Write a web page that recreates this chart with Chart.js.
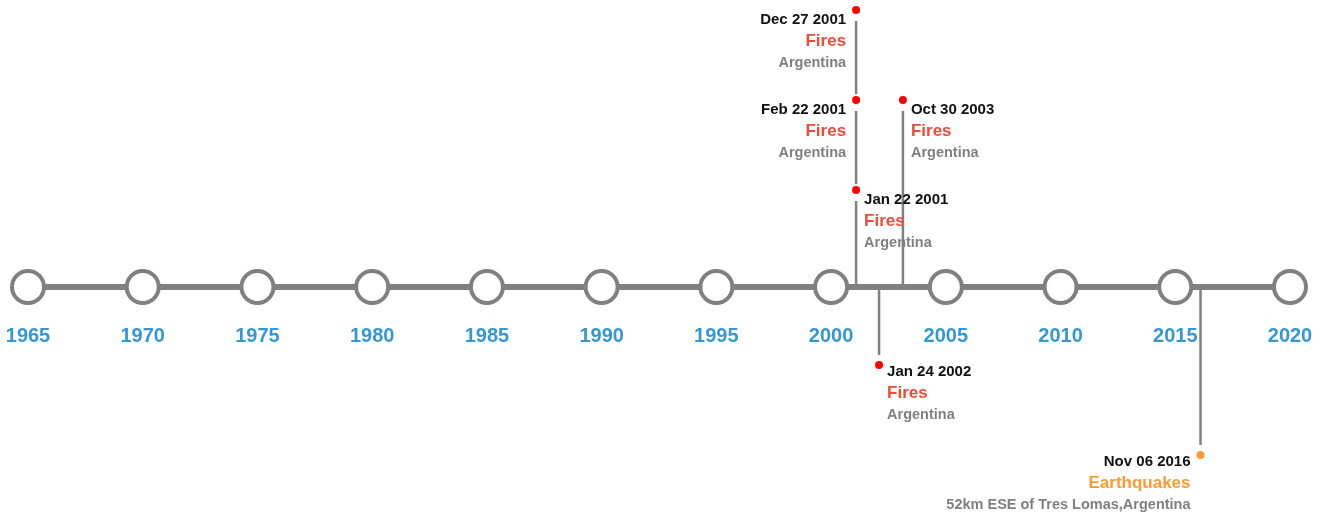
<!DOCTYPE html>
<html>
<head>
<meta charset="utf-8">
<title>Timeline</title>
<script src="https://cdn.jsdelivr.net/npm/chart.js@4/dist/chart.umd.min.js"></script>
<style>
    html, body { margin: 0; padding: 0; background: #ffffff; }
    #wrap { width: 1325px; height: 512px; position: relative; }
</style>
</head>
<body>
<div id="wrap"><canvas id="timelineChart"></canvas></div>
<script>
// Timeline data
const axisYears = [1965, 1970, 1975, 1980, 1985, 1990, 1995, 2000, 2005, 2010, 2015, 2020];
const eventDates = ['Dec 27 2001', 'Feb 22 2001', 'Jan 22 2001', 'Oct 30 2003', 'Jan 24 2002', 'Nov 06 2016'];
const eventTypes = ['Fires', 'Fires', 'Fires', 'Fires', 'Fires', 'Earthquakes'];
const eventPlaces = ['Argentina', 'Argentina', 'Argentina', 'Argentina', 'Argentina', '52km ESE of Tres Lomas,Argentina'];
const eventYears = [2001.09, 2001.09, 2001.09, 2003.13, 2002.09, 2016.1];
const eventRows = [3, 2, 1, 2, -1, -2];   // positive = above the axis, negative = below
const labelSides = ['left', 'left', 'right', 'right', 'right', 'left'];

// Styling
const typeColors = { 'Fires': '#ee4b38', 'Earthquakes': '#ff9a33' };
const dotColors = { 'Fires': '#ff0000', 'Earthquakes': '#ff9933' };
const GRAY = '#808080';
const FONT = '"Liberation Sans", Arial, Helvetica, sans-serif';
const ROW_GAP = 90;
const AXIS_PX = 287;       // distance of the axis from the top of the canvas
const CANVAS_H = 512;
const TICK_GAP = 37;
const TICK_FONT = 20;

// rows -> y value (1 unit = 1 px, axis at 0)
function rowValue(row) {
    return row > 0 ? 7 + ROW_GAP * row : 12 + ROW_GAP * row;
}

const eventValues = eventRows.map(rowValue);

// Build stem segments between the dots of the same column
function buildStems() {
    const stems = [];
    eventYears.forEach((yr, i) => {
        const v = eventValues[i];
        if (v > 0) {
            // closest dot below this one in the same column, above the axis
            let next = null;
            eventYears.forEach((yr2, j) => {
                const v2 = eventValues[j];
                if (j !== i && yr2 === yr && v2 > 0 && v2 < v && (next === null || v2 > next)) next = v2;
            });
            stems.push([{ x: yr, y: v - 11 }, { x: yr, y: next === null ? 0 : next + 6 }]);
        } else {
            stems.push([{ x: yr, y: 0 }, { x: yr, y: v + 10 }]);
        }
    });
    return stems;
}

const stemDatasets = buildStems().map(seg => ({
    type: 'line',
    data: seg,
    borderColor: GRAY,
    borderWidth: 2.5,
    pointRadius: 0,
    clip: false
}));

// Text labels next to each dot
const eventLabels = {
    id: 'eventLabels',
    afterDatasetsDraw(chart) {
        const ctx = chart.ctx;
        const xs = chart.scales.x;
        const ys = chart.scales.y;
        ctx.save();
        ctx.textBaseline = 'middle';
        eventYears.forEach((yr, i) => {
            const px = xs.getPixelForValue(yr);
            const py = ys.getPixelForValue(eventValues[i]);
            const left = labelSides[i] === 'left';
            const tx = left ? px - 10 : px + 8;
            const top = py + (eventValues[i] > 0 ? 9.5 : 6.5);
            ctx.textAlign = left ? 'right' : 'left';

            ctx.font = 'bold 15px ' + FONT;
            ctx.fillStyle = '#111111';
            ctx.fillText(eventDates[i], tx, top);

            ctx.font = 'bold 17px ' + FONT;
            ctx.fillStyle = typeColors[eventTypes[i]];
            ctx.fillText(eventTypes[i], tx, top + 22);

            ctx.font = 'bold 14.5px ' + FONT;
            ctx.fillStyle = GRAY;
            ctx.fillText(eventPlaces[i], tx, top + 43);
        });
        ctx.restore();
    }
};

function createTimeline() {
    const canvas = document.getElementById('timelineChart');

    new Chart(canvas, {
        type: 'scatter',
        data: {
            datasets: [
                {
                    // event dots
                    data: eventYears.map((yr, i) => ({ x: yr, y: eventValues[i] })),
                    pointRadius: 5,
                    pointBorderWidth: 2,
                    pointBorderColor: '#ffffff',
                    pointBackgroundColor: eventTypes.map(t => dotColors[t]),
                    clip: false
                },
                {
                    // main axis with circle markers
                    type: 'line',
                    data: axisYears.map(yr => ({ x: yr, y: 0 })),
                    borderColor: GRAY,
                    borderWidth: 6,
                    pointRadius: 16,
                    pointBorderWidth: 4,
                    pointBorderColor: GRAY,
                    pointBackgroundColor: '#ffffff',
                    clip: false
                },
                ...stemDatasets
            ]
        },
        options: {
            responsive: true,
            maintainAspectRatio: false,
            animation: false,
            events: [],
            layout: { autoPadding: false, padding: { left: 28, right: 35, top: 0, bottom: 0 } },
            plugins: {
                legend: { display: false },
                tooltip: { enabled: false }
            },
            scales: {
                x: {
                    type: 'linear',
                    min: 1965,
                    max: 2020,
                    position: { y: 0 },
                    grid: { display: false, drawTicks: true, tickLength: TICK_GAP },
                    border: { display: false },
                    ticks: {
                        stepSize: 5,
                        padding: 0,
                        color: '#3498d8',
                        font: { family: FONT, size: TICK_FONT, weight: 'bold' },
                        callback: v => String(v)
                    }
                },
                y: {
                    type: 'linear',
                    display: false,
                    min: -(CANVAS_H - AXIS_PX),
                    max: AXIS_PX
                }
            }
        },
        plugins: [eventLabels]
    });
}

createTimeline();
</script>
</body>
</html>
